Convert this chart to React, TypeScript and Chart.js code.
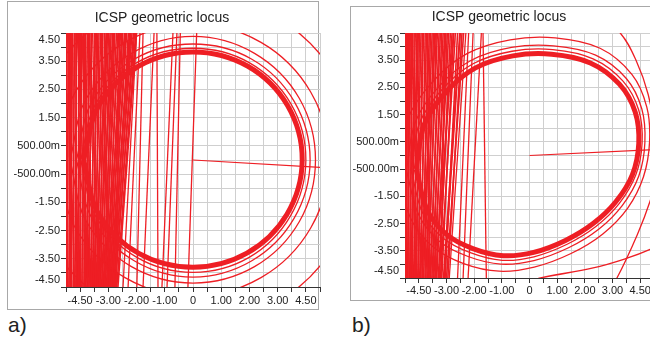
import React, { useEffect, useRef } from 'react';
import { Chart, registerables } from 'chart.js';

Chart.register(...registerables);

// ---------- axis / tick data ----------
const gridValues = [-4.5, -4, -3.5, -3, -2.5, -2, -1.5, -1, -0.5, 0, 0.5, 1, 1.5, 2, 2.5, 3, 3.5, 4, 4.5];
const xTickValues = [-4, -3, -2, -1, 0, 1, 2, 3, 4];
const xTickLabels = ['-4.50', '-3.00', '-2.00', '-1.00', '0', '1.00', '2.00', '3.00', '4.50'];
const yTickValues = [4.5, 3.5, 2.5, 1.5, 0.5, -0.5, -1.5, -2.5, -3.5, -4.5];
const yTickLabels = ['4.50', '3.50', '2.50', '1.50', '500.00m', '-500.00m', '-1.50', '-2.50', '-3.50', '-4.50'];
const axisMin = -4.5;
const axisMax = 4.5;

const chartTitle = 'ICSP geometric locus';
const panelLabels = ['a)', 'b)'];

// ---------- panel a data ----------
const ringAMain = [[-3.88, 0], [-3.34, 1.93], [-1.92, 3.33], [0, 3.83], [1.93, 3.33], [3.35, 1.93], [3.87, 0], [3.33, -1.92], [1.91, -3.3], [0, -3.8], [-1.92, -3.31], [-3.34, -1.93], [-3.88, 0]];
const ringAThin1 = [[-3.98, 0], [-3.45, 1.99], [-1.99, 3.45], [0, 3.96], [1.99, 3.45], [3.47, 1.99], [4.0, 0], [3.45, -1.99], [1.99, -3.45], [0, -3.98], [-1.99, -3.45], [-3.45, -1.99], [-3.98, 0]];
const ringAThin2 = [[-4.13, 0], [-3.58, 2.07], [-2.07, 3.58], [0, 4.11], [2.07, 3.58], [3.59, 2.07], [4.15, 0], [3.58, -2.07], [2.07, -3.58], [0, -4.15], [-2.07, -3.58], [-3.58, -2.07], [-4.13, 0]];
const ringAThin3 = [[-4.36, 0], [-3.78, 2.18], [-2.18, 3.78], [0, 4.38], [2.18, 3.78], [3.77, 2.18], [4.34, 0], [3.77, -2.18], [2.18, -3.78], [0, -4.36], [-2.18, -3.78], [-3.78, -2.18], [-4.36, 0]];
const ringABig1 = [[-4.82, 0], [-4.17, 2.41], [-2.41, 4.17], [0, 4.82], [2.41, 4.17], [4.17, 2.41], [4.82, 0], [4.17, -2.41], [2.41, -4.17], [0, -4.82], [-2.41, -4.17], [-4.17, -2.41], [-4.82, 0]];
const ringABig2 = [[-5.85, 0], [-5.07, 2.93], [-2.93, 5.07], [0, 5.85], [2.93, 5.07], [5.07, 2.93], [5.85, 0], [5.07, -2.93], [2.93, -5.07], [0, -5.85], [-2.93, -5.07], [-5.07, -2.93], [-5.85, 0]];
const spokeA = [[0, 0], [4.6, -0.27]];
const bundleATop = [-4.5, -4.47, -4.41, -4.39, -4.33, -4.28, -4.26, -4.2, -4.15, -4.13, -4.06, -4.02, -3.97, -3.95, -3.88, -3.83, -3.8, -3.74, -3.7, -3.65, -3.6, -3.57, -3.5, -3.46, -3.42, -3.37, -3.33, -3.27, -3.22, -3.19, -3.13, -3.08, -3.05, -2.99, -2.94, -2.9, -2.85, -2.8, -2.77, -2.71, -2.66, -2.63, -2.57, -2.52, -2.49, -2.43, -2.38, -2.35, -2.29, -2.25, -2.2, -2.16, -2.11, -2.07, -2.03, -2.0];
const bundleABottom = [-4.49, -4.44, -4.45, -4.36, -4.31, -4.34, -4.22, -4.25, -4.13, -4.18, -4.05, -4.09, -3.98, -4.02, -3.9, -3.94, -3.82, -3.86, -3.75, -3.79, -3.68, -3.72, -3.6, -3.64, -3.53, -3.57, -3.46, -3.5, -3.39, -3.43, -3.33, -3.36, -3.27, -3.3, -3.21, -3.24, -3.15, -3.18, -3.1, -3.13, -3.04, -3.07, -2.99, -3.02, -2.94, -2.97, -2.89, -2.92, -2.84, -2.87, -2.8, -2.82, -2.75, -2.78, -2.7, -2.66];
const crossATop = [-4.44, -4.3, -4.1, -3.9, -3.68, -3.45, -3.25, -3.02, -2.82, -2.6, -2.4, -2.22];
const crossABottom = [-4.2, -4.4, -3.72, -4.15, -3.3, -3.85, -2.95, -3.55, -3.38, -2.72, -3.15, -2.9];
const midATop = [-2.0, -1.88, -1.77, -1.38, -1.28, -0.71, -0.57, -0.45, 0.13];
const midABottom = [-2.48, -2.3, -1.99, -1.77, -1.24, -1.1, -0.92, -0.64, -0.18];

// ---------- panel b data ----------
const ringBMain = [[-4.1, -0.5], [-3.8, 1.15], [-3.0, 2.35], [-1.95, 3.22], [-0.6, 3.66], [0.8, 3.72], [2.2, 3.4], [3.25, 2.62], [3.82, 1.6], [3.95, 0.45], [3.72, -0.7], [3.12, -1.7], [2.3, -2.5], [1.3, -3.12], [0.15, -3.56], [-0.95, -3.68], [-2.05, -3.42], [-3.0, -2.9], [-3.7, -2.0], [-4.1, -0.5]];
const ringBThin1 = [[-4.28, -0.52], [-3.97, 1.2], [-3.13, 2.46], [-2.04, 3.37], [-0.63, 3.83], [0.84, 3.89], [2.3, 3.55], [3.38, 2.73], [3.95, 1.66], [4.07, 0.46], [3.84, -0.72], [3.24, -1.77], [2.4, -2.61], [1.36, -3.26], [0.16, -3.72], [-0.99, -3.85], [-2.14, -3.57], [-3.13, -3.03], [-3.87, -2.09], [-4.28, -0.52]];
const ringBThin2 = [[-4.45, -0.54], [-4.12, 1.25], [-3.26, 2.55], [-2.12, 3.49], [-0.65, 3.97], [0.87, 4.03], [2.39, 3.69], [3.5, 2.83], [4.06, 1.71], [4.17, 0.47], [3.95, -0.75], [3.35, -1.84], [2.5, -2.71], [1.41, -3.39], [0.16, -3.86], [-1.03, -3.99], [-2.22, -3.71], [-3.26, -3.15], [-4.01, -2.17], [-4.45, -0.54]];
const ringBThin3 = [[-4.76, -0.58], [-4.41, 1.33], [-3.48, 2.73], [-2.26, 3.74], [-0.7, 4.25], [0.93, 4.32], [2.55, 3.94], [3.7, 2.98], [4.24, 1.78], [4.34, 0.5], [4.12, -0.78], [3.55, -1.93], [2.65, -2.88], [1.5, -3.6], [0.17, -4.1], [-1.1, -4.25], [-2.38, -3.97], [-3.48, -3.36], [-4.29, -2.32], [-4.76, -0.58]];
const arcBOuter = [[2.6, 5.0], [3.28, 4.5], [3.85, 3.5], [4.29, 2.24], [4.6, 0.5], [4.58, -0.8], [4.36, -1.67], [3.9, -2.9], [3.16, -4.5], [2.7, -5.2]];
const arcBBottom = [[-0.6, -4.8], [0.4, -4.5], [2.3, -4.13], [3.5, -3.78], [4.36, -3.45], [5.0, -3.1]];
const spokeB = [[0, 0], [4.6, 0.22]];
const bundleBTop = [-4.49, -4.45, -4.4, -4.37, -4.31, -4.27, -4.22, -4.17, -4.13, -4.07, -4.02, -3.98, -3.92, -3.87, -3.83, -3.77, -3.72, -3.67, -3.62, -3.58, -3.52, -3.47, -3.42, -3.37, -3.33, -3.27, -3.22, -3.17, -3.12, -3.07, -3.02, -2.97, -2.92, -2.86, -2.8, -2.74, -2.68, -2.6, -2.52, -2.44, -2.38];
const bundleBBottom = [-4.49, -4.43, -4.46, -4.36, -4.41, -4.3, -4.33, -4.23, -4.26, -4.15, -4.19, -4.08, -4.12, -4.01, -4.04, -3.93, -3.97, -3.86, -3.89, -3.78, -3.83, -3.71, -3.75, -3.65, -3.68, -3.57, -3.6, -3.49, -3.53, -3.42, -3.46, -3.35, -3.38, -3.26, -3.3, -3.17, -3.22, -3.05, -3.11, -2.95, -3.0];
const crossBTop = [-4.35, -4.05, -3.7, -3.4, -3.05, -2.75, -2.5];
const crossBBottom = [-4.1, -4.3, -3.6, -3.95, -3.2, -3.4, -3.08];
const midBTop = [-2.3, -2.2, -2.04, -1.74, -1.68];
const midBBottom = [-2.9, -2.6, -2.4, -2.22, -1.56];

// ---------- styles ----------
const RED = 'rgb(238,30,36)';
const FONT = "'Liberation Sans', Arial, sans-serif";
const TEXT = '#222222';

type Pt = number[];

function curve(points: Pt[], width: number, tension: number) {
  return {
    data: points.map((p) => ({ x: p[0], y: p[1] })),
    showLine: true,
    borderColor: RED,
    borderWidth: width,
    tension,
    pointRadius: 0,
    fill: false,
  };
}

function straightLines(tops: number[], bottoms: number[], width: number) {
  return tops.map((t, i) => curve([[t, axisMax], [bottoms[i], axisMin]], width, 0));
}

interface PanelSpec {
  datasets: any[];
  yAxisWidth: number;
  xAxisHeight: number;
  padRight: number;
  titleTop: number;
  titleBottom: number;
  xLabelPad: number;
}

function makeConfig(spec: PanelSpec): any {
  const tickFont = { family: FONT, size: 11 };
  return {
    type: 'scatter',
    data: { datasets: spec.datasets },
    options: {
      animation: false,
      responsive: false,
      maintainAspectRatio: false,
      events: [],
      layout: { padding: { left: 0, right: spec.padRight, top: 0, bottom: 0 } },
      plugins: {
        legend: { display: false },
        tooltip: { enabled: false },
        title: {
          display: true,
          text: chartTitle,
          color: TEXT,
          font: { family: FONT, size: 14, weight: 'normal', lineHeight: 1.2 },
          padding: { top: spec.titleTop, bottom: spec.titleBottom },
        },
      },
      scales: {
        x: {
          type: 'linear',
          min: axisMin,
          max: axisMax,
          afterBuildTicks: (scale: any) => {
            scale.ticks = gridValues.map((v) => ({ value: v }));
          },
          afterFit: (scale: any) => {
            scale.height = spec.xAxisHeight;
          },
          ticks: {
            autoSkip: false,
            maxRotation: 0,
            minRotation: 0,
            padding: spec.xLabelPad,
            color: TEXT,
            font: tickFont,
            callback: (value: number) => {
              const i = xTickValues.indexOf(value);
              return i >= 0 ? xTickLabels[i] : '';
            },
          },
          grid: { color: '#cfcfcf', lineWidth: 1, tickColor: '#333333', tickLength: 5, drawTicks: true },
          border: { color: '#333333', width: 1 },
        },
        y: {
          type: 'linear',
          min: axisMin,
          max: axisMax,
          afterBuildTicks: (scale: any) => {
            scale.ticks = gridValues.map((v) => ({ value: v }));
          },
          afterFit: (scale: any) => {
            scale.width = spec.yAxisWidth;
          },
          ticks: {
            autoSkip: false,
            padding: 1,
            color: TEXT,
            font: tickFont,
            callback: (value: number) => {
              const i = yTickValues.indexOf(value);
              if (i < 0) return '';
              if (value === axisMax) return ['', yTickLabels[i]];
              if (value === axisMin) return [yTickLabels[i], ''];
              return yTickLabels[i];
            },
          },
          grid: { color: '#cfcfcf', lineWidth: 1, tickColor: '#333333', tickLength: 5, drawTicks: true },
          border: { color: '#333333', width: 1 },
        },
      },
    },
  };
}

// Chart.js paints the first dataset on top, so the rings come first.
const panelA: PanelSpec = {
  datasets: [
    curve(ringAMain, 5, 0.35),
    curve(ringAThin1, 1.3, 0.35),
    curve(ringAThin2, 1.3, 0.35),
    curve(ringAThin3, 1.3, 0.35),
    curve(ringABig1, 1.3, 0.35),
    curve(ringABig2, 1.3, 0.35),
    curve(spokeA, 1.2, 0),
    ...straightLines(midATop, midABottom, 1.3),
    ...straightLines(crossATop, crossABottom, 1.5),
    ...straightLines(bundleATop, bundleABottom, 1.6),
  ],
  yAxisWidth: 62,
  xAxisHeight: 23,
  padRight: 5,
  titleTop: 9.9,
  titleBottom: 6.3,
  xLabelPad: 2,
};

const panelB: PanelSpec = {
  datasets: [
    curve(ringBMain, 5, 0.35),
    curve(ringBThin1, 1.3, 0.35),
    curve(ringBThin2, 1.3, 0.35),
    curve(ringBThin3, 1.3, 0.35),
    curve(arcBOuter, 1.3, 0.4),
    curve(arcBBottom, 1.3, 0.4),
    curve(spokeB, 1.2, 0),
    ...straightLines(midBTop, midBBottom, 1.3),
    ...straightLines(crossBTop, crossBBottom, 1.5),
    ...straightLines(bundleBTop, bundleBBottom, 1.6),
  ],
  yAxisWidth: 62,
  xAxisHeight: 22,
  padRight: 0,
  titleTop: 8.3,
  titleBottom: 7.9,
  xLabelPad: 1,
};

function ChartCanvas({ spec, left, top, width, height }: { spec: PanelSpec; left: number; top: number; width: number; height: number }) {
  const ref = useRef<HTMLCanvasElement | null>(null);
  useEffect(() => {
    if (!ref.current) return;
    const chart = new Chart(ref.current, makeConfig(spec));
    return () => chart.destroy();
  }, [spec]);
  return (
    <canvas
      ref={ref}
      width={width}
      height={height}
      style={{ position: 'absolute', left, top, width, height }}
    />
  );
}

export default function App() {
  return (
    <div
      style={{
        position: 'fixed',
        left: 0,
        top: 0,
        width: 650,
        height: 338,
        overflow: 'hidden',
        background: '#ffffff',
        fontFamily: FONT,
      }}
    >
      <div style={{ position: 'absolute', left: 7, top: 1, width: 312, height: 309, border: '1px solid #a8a8a8', boxSizing: 'border-box' }} />
      <div style={{ position: 'absolute', left: 350, top: 6, width: 320, height: 295, border: '1px solid #a8a8a8', boxSizing: 'border-box' }} />
      <ChartCanvas spec={panelA} left={4} top={0} width={321} height={310} />
      <ChartCanvas spec={panelB} left={343} top={0} width={312} height={300} />
      <div style={{ position: 'absolute', left: 8, top: 312, fontSize: 21, color: TEXT, lineHeight: '26px' }}>{panelLabels[0]}</div>
      <div style={{ position: 'absolute', left: 352, top: 312, fontSize: 21, color: TEXT, lineHeight: '26px' }}>{panelLabels[1]}</div>
    </div>
  );
}
